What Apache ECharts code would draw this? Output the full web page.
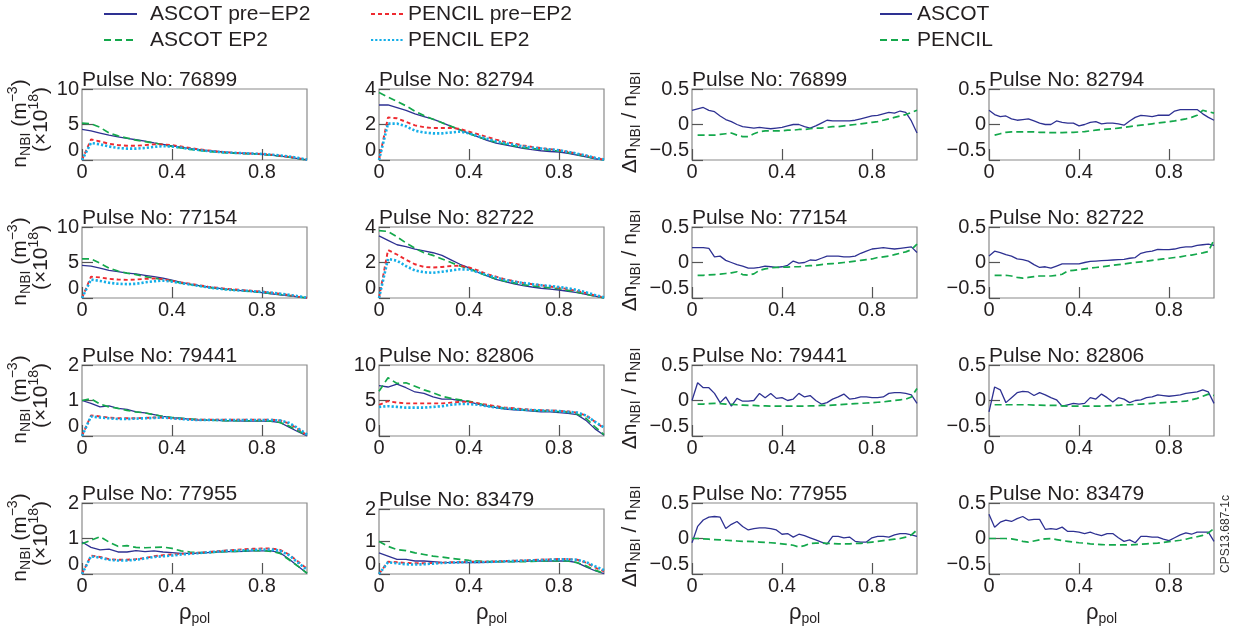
<!DOCTYPE html>
<html>
<head>
<meta charset="utf-8">
<script src="https://cdn.jsdelivr.net/npm/echarts@6/dist/echarts.min.js"></script>
<style>
html,body{margin:0;padding:0;background:#fff;}
#chart{width:1242px;height:637px;}
</style>
</head>
<body>
<div id="chart"></div>
<script>
// ---------------- DATA ----------------
const rhoN = [0,0.04,0.08,0.12,0.16,0.2,0.24,0.28,0.32,0.36,0.4,0.44,0.48,0.52,0.56,0.6,0.64,0.68,0.72,0.76,0.8,0.84,0.88,0.92,0.96,1];
const rhoD = [0,0.025,0.05,0.075,0.1,0.125,0.15,0.175,0.2,0.225,0.25,0.275,0.3,0.325,0.35,0.375,0.4,0.425,0.45,0.475,0.5,0.525,0.55,0.575,0.6,0.625,0.65,0.675,0.7,0.725,0.75,0.775,0.8,0.825,0.85,0.875,0.9,0.925,0.95,0.975,1];
const xTickLabels = ['0','0.4','0.8'];

// n_NBI (x10^18 m^-3): ASCOT pre-EP2 / ASCOT EP2 / PENCIL pre-EP2 / PENCIL EP2
const a76899pre = [4.3,4.1,3.8,3.5,3.25,3.05,2.85,2.65,2.4,2.2,2.0,1.8,1.6,1.45,1.3,1.2,1.1,1.0,0.95,0.9,0.8,0.7,0.55,0.4,0.2,0.0];
const a76899ep2 = [5.2,5.1,4.6,3.8,3.4,3.1,2.8,2.6,2.4,2.15,1.9,1.7,1.5,1.35,1.2,1.1,1.0,0.95,0.9,0.85,0.8,0.7,0.55,0.4,0.2,0.0];
const p76899pre = [0,2.9,2.6,2.3,2.1,2.0,2.0,2.1,2.2,2.2,2.1,1.9,1.7,1.5,1.35,1.2,1.1,1.0,0.95,0.9,0.85,0.75,0.6,0.45,0.25,0.05];
const p76899ep2 = [0,2.4,2.2,1.9,1.7,1.6,1.6,1.7,1.85,1.95,1.9,1.75,1.55,1.4,1.25,1.15,1.05,1.0,0.95,0.9,0.85,0.75,0.65,0.5,0.3,0.05];

const a82794pre = [3.1,3.1,2.95,2.8,2.6,2.45,2.3,2.1,1.9,1.7,1.5,1.3,1.1,0.95,0.85,0.75,0.65,0.58,0.52,0.48,0.45,0.38,0.28,0.17,0.07,0.0];
const a82794ep2 = [3.8,3.55,3.3,3.05,2.75,2.5,2.3,2.1,1.9,1.7,1.5,1.3,1.15,1.0,0.9,0.8,0.7,0.65,0.6,0.55,0.5,0.42,0.32,0.2,0.1,0.0];
const p82794pre = [0,2.4,2.35,2.15,1.95,1.85,1.8,1.8,1.8,1.75,1.6,1.45,1.3,1.15,1.02,0.92,0.82,0.74,0.67,0.61,0.55,0.46,0.36,0.25,0.12,0.02];
const p82794ep2 = [0,2.05,2.05,1.9,1.65,1.55,1.5,1.5,1.55,1.6,1.5,1.35,1.2,1.05,0.95,0.85,0.77,0.7,0.65,0.6,0.55,0.46,0.36,0.25,0.12,0.03];

const a77154pre = [4.6,4.5,4.2,3.9,3.7,3.5,3.4,3.2,3.0,2.8,2.5,2.2,1.95,1.75,1.55,1.4,1.25,1.1,1.0,0.9,0.75,0.6,0.45,0.3,0.15,0.0];
const a77154ep2 = [5.5,5.5,4.9,4.2,3.8,3.5,3.3,3.0,2.8,2.6,2.4,2.1,1.9,1.7,1.5,1.35,1.2,1.1,1.0,0.9,0.8,0.65,0.5,0.35,0.15,0.0];
const p77154pre = [0,3.0,2.9,2.7,2.6,2.55,2.6,2.7,2.75,2.65,2.4,2.2,2.0,1.8,1.6,1.45,1.3,1.2,1.1,1.0,0.9,0.75,0.6,0.4,0.2,0.03];
const p77154ep2 = [0,2.6,2.4,2.15,2.0,1.95,2.0,2.2,2.35,2.45,2.3,2.1,1.9,1.7,1.5,1.35,1.2,1.1,1.05,0.95,0.85,0.75,0.6,0.45,0.25,0.05];

const a82722pre = [3.5,3.25,3.0,2.9,2.75,2.65,2.55,2.4,2.15,1.9,1.7,1.45,1.25,1.05,0.92,0.8,0.7,0.62,0.55,0.5,0.45,0.38,0.3,0.2,0.1,0.0];
const a82722ep2 = [3.8,3.75,3.45,3.1,2.8,2.55,2.4,2.2,2.0,1.8,1.65,1.45,1.25,1.08,0.95,0.85,0.75,0.68,0.62,0.57,0.52,0.43,0.33,0.22,0.11,0.0];
const p82722pre = [0,2.7,2.45,2.15,1.9,1.75,1.72,1.75,1.8,1.82,1.72,1.55,1.35,1.2,1.05,0.95,0.85,0.78,0.72,0.65,0.58,0.5,0.4,0.28,0.14,0.03];
const p82722ep2 = [0,2.2,2.1,1.8,1.55,1.45,1.42,1.48,1.55,1.62,1.6,1.45,1.3,1.15,1.02,0.92,0.85,0.78,0.72,0.68,0.62,0.55,0.45,0.32,0.17,0.04];

const a79441pre = [1.0,0.92,0.82,0.85,0.78,0.75,0.68,0.65,0.6,0.55,0.52,0.5,0.47,0.45,0.45,0.44,0.43,0.43,0.42,0.42,0.42,0.41,0.38,0.25,0.12,0.0];
const a79441ep2 = [1.0,1.05,0.9,0.82,0.78,0.72,0.68,0.65,0.6,0.55,0.52,0.5,0.48,0.46,0.45,0.44,0.43,0.43,0.43,0.43,0.43,0.42,0.38,0.28,0.15,0.02];
const p79441pre = [0,0.58,0.55,0.52,0.5,0.5,0.5,0.51,0.52,0.52,0.5,0.48,0.47,0.46,0.46,0.46,0.46,0.46,0.46,0.46,0.46,0.46,0.44,0.35,0.2,0.02];
const p79441ep2 = [0,0.55,0.52,0.5,0.48,0.48,0.49,0.5,0.51,0.52,0.5,0.48,0.46,0.45,0.45,0.45,0.45,0.45,0.45,0.45,0.45,0.45,0.44,0.37,0.22,0.04];

const a82806pre = [7.1,6.9,7.3,6.8,6.2,6.0,5.5,5.2,5.2,5.0,4.8,4.5,4.2,4.0,3.8,3.7,3.6,3.5,3.4,3.4,3.3,3.2,3.0,2.2,1.0,0.1];
const a82806ep2 = [6.3,8.2,7.4,7.5,7.0,6.5,6.1,5.6,5.3,5.1,4.9,4.6,4.3,4.1,3.9,3.8,3.7,3.6,3.55,3.5,3.45,3.35,3.1,2.5,1.3,0.2];
const p82806pre = [4.4,4.9,4.7,4.6,4.6,4.6,4.6,4.6,4.7,4.8,4.8,4.6,4.4,4.2,4.0,3.9,3.8,3.7,3.65,3.6,3.55,3.45,3.3,2.9,2.0,1.1];
const p82806ep2 = [4.1,4.2,4.1,4.0,4.0,4.0,4.1,4.2,4.4,4.5,4.5,4.4,4.2,4.0,3.9,3.8,3.7,3.65,3.6,3.55,3.5,3.4,3.3,2.9,2.0,1.2];

const a77955pre = [0.9,0.75,0.68,0.7,0.62,0.62,0.66,0.63,0.65,0.62,0.6,0.58,0.58,0.58,0.6,0.62,0.63,0.63,0.64,0.65,0.65,0.65,0.6,0.42,0.22,0.02];
const a77955ep2 = [0.85,0.95,1.05,0.9,0.78,0.8,0.75,0.74,0.75,0.76,0.72,0.65,0.62,0.6,0.6,0.62,0.63,0.64,0.65,0.66,0.66,0.64,0.58,0.4,0.22,0.02];
const p77955pre = [0,0.52,0.48,0.42,0.4,0.4,0.42,0.45,0.5,0.53,0.55,0.57,0.58,0.6,0.62,0.64,0.66,0.68,0.7,0.71,0.72,0.72,0.68,0.55,0.35,0.15];
const p77955ep2 = [0,0.5,0.46,0.4,0.38,0.38,0.4,0.44,0.48,0.5,0.52,0.55,0.57,0.59,0.61,0.63,0.65,0.66,0.67,0.68,0.69,0.69,0.66,0.53,0.32,0.12];

const a83479pre = [0.65,0.55,0.45,0.45,0.4,0.4,0.38,0.36,0.35,0.36,0.35,0.35,0.36,0.37,0.38,0.38,0.39,0.4,0.4,0.4,0.4,0.4,0.35,0.22,0.1,0.01];
const a83479ep2 = [1.0,0.85,0.75,0.72,0.65,0.6,0.55,0.52,0.48,0.45,0.42,0.4,0.38,0.38,0.38,0.38,0.38,0.39,0.4,0.4,0.4,0.4,0.35,0.25,0.12,0.02];
const p83479pre = [0,0.38,0.36,0.34,0.33,0.33,0.34,0.35,0.36,0.37,0.38,0.38,0.38,0.39,0.4,0.41,0.42,0.43,0.44,0.45,0.46,0.46,0.44,0.35,0.2,0.08];
const p83479ep2 = [0,0.36,0.33,0.3,0.29,0.3,0.32,0.34,0.35,0.36,0.37,0.37,0.37,0.38,0.39,0.4,0.41,0.42,0.43,0.44,0.45,0.45,0.44,0.37,0.24,0.12];

// Delta n_NBI / n_NBI : ASCOT / PENCIL
const d76899A = [0.2,0.22,0.24,0.2,0.18,0.12,0.07,0.04,0.0,-0.03,-0.04,-0.05,-0.04,-0.05,-0.06,-0.05,-0.04,-0.02,0.0,0.0,-0.03,-0.05,-0.02,0.02,0.06,0.05,0.05,0.05,0.05,0.06,0.08,0.1,0.12,0.13,0.15,0.17,0.16,0.19,0.17,0.05,-0.12];
const d76899P = [null,-0.15,-0.15,-0.15,-0.15,-0.14,-0.13,-0.12,-0.15,-0.17,-0.17,-0.13,-0.1,-0.09,-0.09,-0.09,-0.09,-0.08,-0.08,-0.07,-0.07,-0.06,-0.05,-0.05,-0.04,-0.03,-0.03,-0.02,-0.01,0.0,0.01,0.02,0.03,0.04,0.06,0.08,0.1,0.12,0.14,0.17,0.2];
const d82794A = [0.2,0.14,0.11,0.12,0.08,0.06,0.07,0.08,0.05,0.02,0.0,0.0,0.05,0.03,0.02,0.02,-0.02,0.0,0.03,0.04,0.01,0.02,0.02,0.01,-0.01,0.05,0.1,0.13,0.12,0.11,0.13,0.13,0.13,0.19,0.21,0.21,0.21,0.21,0.15,0.1,0.06];
const d82794P = [null,-0.15,-0.13,-0.11,-0.105,-0.105,-0.105,-0.105,-0.105,-0.11,-0.11,-0.115,-0.115,-0.115,-0.11,-0.11,-0.105,-0.1,-0.09,-0.08,-0.07,-0.065,-0.06,-0.05,-0.04,-0.03,-0.02,-0.01,0.0,0.01,0.02,0.03,0.04,0.05,0.065,0.08,0.1,0.13,0.2,0.18,0.16];
const d77154A = [0.21,0.21,0.21,0.2,0.08,0.09,0.03,0.0,-0.03,-0.05,-0.08,-0.08,-0.07,-0.05,-0.06,-0.07,-0.06,-0.04,0.02,-0.01,0.0,0.035,0.03,0.06,0.09,0.09,0.09,0.08,0.08,0.09,0.13,0.16,0.19,0.2,0.21,0.2,0.19,0.2,0.21,0.22,0.14];
const d77154P = [null,-0.18,-0.18,-0.175,-0.17,-0.165,-0.155,-0.145,-0.13,-0.17,-0.18,-0.16,-0.11,-0.09,-0.075,-0.07,-0.065,-0.065,-0.06,-0.06,-0.05,-0.045,-0.04,-0.03,-0.02,-0.015,-0.01,0.0,0.01,0.02,0.03,0.04,0.05,0.07,0.08,0.09,0.11,0.13,0.15,0.18,0.26];
const d82722A = [0.09,0.16,0.14,0.11,0.09,0.05,0.04,0.02,-0.03,-0.07,-0.06,-0.08,-0.05,-0.02,-0.02,-0.02,-0.02,0.0,0.015,0.02,0.025,0.03,0.035,0.04,0.045,0.06,0.07,0.13,0.15,0.16,0.185,0.18,0.18,0.19,0.21,0.22,0.22,0.24,0.25,0.26,0.24];
const d82722P = [null,-0.18,-0.18,-0.18,-0.19,-0.21,-0.22,-0.21,-0.2,-0.19,-0.19,-0.19,-0.18,-0.165,-0.12,-0.11,-0.1,-0.09,-0.08,-0.07,-0.06,-0.05,-0.04,-0.03,-0.02,-0.01,0.0,0.01,0.02,0.03,0.04,0.05,0.06,0.07,0.08,0.095,0.105,0.12,0.135,0.155,0.32];
const d79441A = [0.0,0.25,0.18,0.18,0.1,-0.03,0.05,-0.08,0.03,-0.01,-0.01,0.0,0.1,0.04,0.1,0.03,0.04,0.0,0.02,0.1,0.05,0.07,0.0,-0.05,-0.03,0.02,0.05,0.09,0.02,0.03,0.05,0.05,0.04,0.04,0.05,0.1,0.11,0.11,0.1,0.08,-0.04];
const d79441P = [null,-0.05,-0.05,-0.045,-0.04,-0.045,-0.05,-0.055,-0.06,-0.065,-0.07,-0.07,-0.075,-0.075,-0.08,-0.08,-0.08,-0.08,-0.08,-0.08,-0.08,-0.075,-0.075,-0.07,-0.07,-0.065,-0.06,-0.055,-0.05,-0.045,-0.04,-0.035,-0.03,-0.025,-0.02,-0.01,0.0,0.01,0.02,0.05,0.17];
const d82806A = [-0.16,0.19,0.15,-0.03,0.04,0.11,0.13,0.12,0.07,0.11,0.08,0.04,0.01,-0.08,-0.06,-0.04,-0.05,-0.04,0.04,0.02,0.09,0.04,-0.02,0.04,0.02,-0.03,0.0,0.01,0.04,0.05,0.08,0.07,0.06,0.07,0.08,0.1,0.11,0.12,0.15,0.12,-0.04];
const d82806P = [null,-0.06,-0.06,-0.06,-0.06,-0.06,-0.06,-0.06,-0.065,-0.065,-0.07,-0.07,-0.07,-0.075,-0.08,-0.08,-0.08,-0.08,-0.08,-0.08,-0.08,-0.075,-0.07,-0.07,-0.06,-0.06,-0.055,-0.05,-0.045,-0.04,-0.035,-0.03,-0.025,-0.02,-0.015,-0.01,0.01,0.03,0.06,0.09,0.07];
const d77955A = [-0.06,0.17,0.26,0.3,0.31,0.3,0.14,0.2,0.24,0.17,0.12,0.14,0.15,0.15,0.14,0.12,0.06,0.07,0.02,0.06,0.04,0.01,-0.02,-0.05,-0.08,0.03,0.03,0.01,0.02,-0.04,-0.05,-0.05,0.01,0.03,0.03,0.02,0.05,0.07,0.07,0.05,0.03];
const d77955P = [0.0,0.0,-0.005,-0.01,-0.015,-0.02,-0.025,-0.03,-0.035,-0.04,-0.04,-0.045,-0.05,-0.055,-0.06,-0.065,-0.075,-0.085,-0.095,-0.12,-0.1,-0.07,-0.065,-0.065,-0.07,-0.07,-0.075,-0.075,-0.075,-0.07,-0.07,-0.06,-0.05,-0.04,-0.03,-0.02,-0.01,0.0,0.02,0.05,0.12];
const d83479A = [0.34,0.16,0.23,0.26,0.24,0.28,0.31,0.26,0.27,0.27,0.13,0.14,0.13,0.16,0.1,0.1,0.09,0.07,0.09,0.06,0.04,0.07,0.07,0.01,-0.04,-0.02,-0.06,0.03,0.03,0.02,0.02,-0.01,-0.03,0.01,0.05,0.08,0.06,0.09,0.09,0.09,-0.04];
const d83479P = [0.0,0.0,0.0,0.0,-0.005,-0.02,-0.04,-0.05,-0.035,-0.02,-0.005,0.0,-0.015,-0.03,-0.04,-0.05,-0.06,-0.065,-0.075,-0.08,-0.085,-0.09,-0.09,-0.09,-0.09,-0.09,-0.085,-0.08,-0.075,-0.07,-0.065,-0.055,-0.045,-0.035,-0.025,-0.01,0.01,0.025,0.045,0.08,0.14];

const densNames = ['ASCOT pre−EP2','ASCOT EP2','PENCIL pre−EP2','PENCIL EP2'];
const diffNames = ['ASCOT','PENCIL'];

const densPanels = [
  {r:0,c:0,pulse:'76899',max:10,step:5,ys:[a76899pre,a76899ep2,p76899pre,p76899ep2]},
  {r:0,c:1,pulse:'82794',max:4,step:2,ys:[a82794pre,a82794ep2,p82794pre,p82794ep2]},
  {r:1,c:0,pulse:'77154',max:10,step:5,ys:[a77154pre,a77154ep2,p77154pre,p77154ep2]},
  {r:1,c:1,pulse:'82722',max:4,step:2,ys:[a82722pre,a82722ep2,p82722pre,p82722ep2]},
  {r:2,c:0,pulse:'79441',max:2,step:1,ys:[a79441pre,a79441ep2,p79441pre,p79441ep2]},
  {r:2,c:1,pulse:'82806',max:10,step:5,ys:[a82806pre,a82806ep2,p82806pre,p82806ep2]},
  {r:3,c:0,pulse:'77955',max:2,step:1,ys:[a77955pre,a77955ep2,p77955pre,p77955ep2]},
  {r:3,c:1,pulse:'83479',max:2,step:1,ys:[a83479pre,a83479ep2,p83479pre,p83479ep2],topShift:6}
];
const diffPanels = [
  {r:0,c:2,pulse:'76899',ys:[d76899A,d76899P]},
  {r:0,c:3,pulse:'82794',ys:[d82794A,d82794P]},
  {r:1,c:2,pulse:'77154',ys:[d77154A,d77154P]},
  {r:1,c:3,pulse:'82722',ys:[d82722A,d82722P]},
  {r:2,c:2,pulse:'79441',ys:[d79441A,d79441P]},
  {r:2,c:3,pulse:'82806',ys:[d82806A,d82806P]},
  {r:3,c:2,pulse:'77955',ys:[d77955A,d77955P]},
  {r:3,c:3,pulse:'83479',ys:[d83479A,d83479P]}
];

// ---------------- LAYOUT / STYLE ----------------
const FONT = '"Liberation Sans", Arial, Helvetica, sans-serif';
const TXT = '#231f20';
const colLeft = [82, 379, 692, 989];
const rowTop = [89, 227, 365, 503];
const rowBottom = [160, 298, 436, 574];
const plotW = 225;

const densStyles = [
  {color:'#2e3192', width:1.3, type:'solid'},
  {color:'#14a84c', width:1.7, type:[7,4]},
  {color:'#ee2a30', width:1.9, type:[4,3]},
  {color:'#14aee8', width:2.6, type:[2.2,2]}
];
const diffStyles = [
  {color:'#2e3192', width:1.3, type:'solid'},
  {color:'#14a84c', width:1.7, type:[7,4]}
];

function pairs(xs, ys){ return xs.map((x,i)=>[x, ys[i]==null ? '-' : ys[i]]); }
function fmtMinus(v){ return (v<0?'−':'') + String(Math.round(Math.abs(v)*100)/100); }

const grids=[], xAxes=[], yAxes=[], series=[], titles=[], graphic=[];

const panels = densPanels.map(p=>Object.assign({kind:'n'},p)).concat(diffPanels.map(p=>Object.assign({kind:'d'},p)));

const richX = {
  b:{fontSize:22, lineHeight:26, color:TXT, fontFamily:FONT},
  s:{fontSize:14, lineHeight:14, verticalAlign:'bottom', color:TXT, fontFamily:FONT}
};
const richY = {
  b:{fontSize:21, lineHeight:27, fill:TXT, fontFamily:FONT},
  s:{fontSize:14, lineHeight:14, verticalAlign:'bottom', fill:TXT, fontFamily:FONT},
  p:{fontSize:14, lineHeight:14, verticalAlign:'top', fill:TXT, fontFamily:FONT}
};

panels.forEach((p,i)=>{
  const top = rowTop[p.r] + (p.topShift||0);
  const h = rowBottom[p.r] - top;
  const left = colLeft[p.c];
  grids.push({left:left, top:top, width:plotW, height:h, show:true, borderColor:'#8a8a8a', borderWidth:1.2, backgroundColor:'transparent'});
  titles.push({text:'Pulse No: '+p.pulse, left:left, top:top-21, padding:0,
    textStyle:{fontSize:21, fontWeight:'normal', color:TXT, fontFamily:FONT, lineHeight:24}});
  const xa = {gridIndex:i, type:'value', min:0, max:1, interval:0.4,
    axisLine:{show:false, onZero:false}, splitLine:{show:false},
    axisTick:{show:true, inside:true, length:11, lineStyle:{color:'#555', width:1.2}},
    axisLabel:{fontSize:20, color:TXT, fontFamily:FONT, margin:2, showMaxLabel:false,
      formatter:(v)=>{ const k = Math.round(v/0.4); return xTickLabels[k]!==undefined && Math.abs(v-k*0.4)<1e-6 ? xTickLabels[k] : ''; }}
  };
  if (p.r===3){
    xa.name = '{b|ρ}{s|pol}';
    xa.nameLocation = 'middle';
    xa.nameGap = 26;
    xa.nameMoveOverlap = false;
    xa.nameTextStyle = {rich:richX, fontSize:22, color:TXT, fontFamily:FONT};
  }
  xAxes.push(xa);
  const isN = p.kind==='n';
  yAxes.push({gridIndex:i, type:'value', min:isN?0:-0.5, max:isN?p.max:0.5, interval:isN?p.step:0.5,
    axisLine:{show:false, onZero:false}, splitLine:{show:false},
    axisTick:{show:true, inside:true, length:11, lineStyle:{color:'#555', width:1.2}},
    axisLabel:{fontSize:20, color:TXT, fontFamily:FONT, margin:3, padding:[5,0,0,0], formatter:fmtMinus, verticalAlignMinLabel:'bottom'}
  });
  const names = isN ? densNames : diffNames;
  const styles = isN ? densStyles : diffStyles;
  const xs = isN ? rhoN : rhoD;
  p.ys.forEach((ys,k)=>{
    series.push({type:'line', name:names[k], xAxisIndex:i, yAxisIndex:i, data:pairs(xs,ys),
      symbol:'none', showSymbol:false, smooth:false, color:styles[k].color,
      lineStyle:{color:styles[k].color, width:styles[k].width, type:styles[k].type},
      emphasis:{disabled:true}, silent:true, z:2+k});
  });
  // y-axis names
  const cy = (top + rowBottom[p.r])/2;
  if (p.c===0){
    graphic.push({type:'text', x:20, y:cy-1, rotation:Math.PI/2, silent:true,
      style:{text:'{b|n}{s|NBI}{b| (m}{p|−3}{b|)}', rich:richY, align:'center', verticalAlign:'middle', fill:TXT, fontFamily:FONT, fontSize:21}});
    graphic.push({type:'text', x:41, y:cy-5, rotation:Math.PI/2, silent:true,
      style:{text:'{b|(×10}{p|18}{b|)}', rich:richY, align:'center', verticalAlign:'middle', fill:TXT, fontFamily:FONT, fontSize:21}});
  }
  if (p.c===2){
    graphic.push({type:'text', x:630, y:cy-2, rotation:Math.PI/2, silent:true,
      style:{text:'{b|Δn}{s|NBI}{b| / n}{s|NBI}', rich:richY, align:'center', verticalAlign:'middle', fill:TXT, fontFamily:FONT, fontSize:21}});
  }
});

graphic.push({type:'text', x:1226, y:534, rotation:Math.PI/2, silent:true,
  style:{text:'CPS13.687-1c', align:'center', verticalAlign:'middle', fill:'#333', fontFamily:FONT, fontSize:12}});

const legTS = {fontSize:21, color:TXT, fontFamily:FONT, lineHeight:24};
const legItem = {color:'rgba(0,0,0,0)', borderWidth:0, opacity:0};
const legends = [
  {data:[densNames[0],densNames[1]], orient:'vertical', left:103, top:2, padding:0, itemWidth:33, itemHeight:14, itemGap:2, selectedMode:false,
    itemStyle:legItem, textStyle:Object.assign({padding:[0,0,0,8]},legTS)},
  {data:[densNames[2],densNames[3]], orient:'vertical', left:370, top:2, padding:0, itemWidth:32, itemHeight:14, itemGap:2, selectedMode:false,
    itemStyle:legItem, textStyle:Object.assign({padding:[0,0,0,0]},legTS)},
  {data:[diffNames[0],diffNames[1]], orient:'vertical', left:879, top:2, padding:0, itemWidth:32, itemHeight:14, itemGap:2, selectedMode:false,
    itemStyle:legItem, textStyle:Object.assign({padding:[0,0,0,0]},legTS)}
];

const chart = echarts.init(document.getElementById('chart'), null, {renderer:'canvas'});
chart.setOption({
  animation:false,
  backgroundColor:'#ffffff',
  textStyle:{fontFamily:FONT},
  title:titles,
  legend:legends,
  grid:grids,
  xAxis:xAxes,
  yAxis:yAxes,
  series:series,
  graphic:graphic
});
</script>
</body>
</html>
